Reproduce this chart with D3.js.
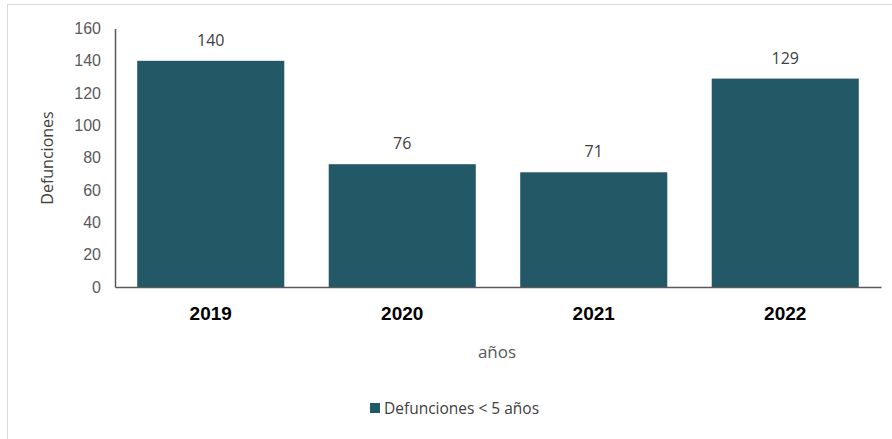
<!DOCTYPE html>
<html><head><meta charset="UTF-8">
<script src="https://d3js.org/d3.v7.min.js"></script>
<style>body{margin:0;background:#fff;font-family:"Open Sans","Liberation Sans",sans-serif;}</style>
</head><body><svg id="c" width="892" height="439"></svg>
<script>
const years = ['2019', '2020', '2021', '2022'];
const deaths = [140, 76, 71, 129];
const yTicks = [0, 20, 40, 60, 80, 100, 120, 140, 160];

const svg = d3.select('#c');
svg.append('rect').attr('x', 7.5).attr('y', 4.5).attr('width', 900).attr('height', 440)
  .attr('fill', '#fff').attr('stroke', '#d9d9d9');

const x = d3.scaleBand().domain(years).range([115, 881]).paddingInner(0.232).paddingOuter(0.116);
const y = d3.scaleLinear().domain([0, 160]).range([287, 28.5]);

svg.selectAll('.bar').data(deaths).join('rect')
  .attr('x', (d, i) => x(years[i])).attr('y', d => y(d))
  .attr('width', x.bandwidth()).attr('height', d => y(0) - y(d)).attr('fill', '#235967');

svg.selectAll('.lbl').data(deaths).join('text')
  .attr('x', (d, i) => x(years[i]) + x.bandwidth() / 2).attr('y', d => y(d) - 15)
  .attr('text-anchor', 'middle').attr('font-size', 16).attr('fill', '#404040').text(d => d);

const ya = svg.append('g').attr('transform', 'translate(115,0)')
  .call(d3.axisLeft(y).tickValues(yTicks).tickSize(0).tickPadding(14));
ya.select('.domain').attr('stroke', '#595959').attr('stroke-width', 1.5);
ya.selectAll('text').attr('font-size', 16).attr('fill', '#595959').attr('font-family', 'inherit');

const xa = svg.append('g').attr('transform', 'translate(0,287)')
  .call(d3.axisBottom(x).tickSize(0).tickPadding(20));
xa.select('.domain').attr('stroke', '#595959').attr('stroke-width', 1.5);
xa.selectAll('text').attr('font-size', 19).attr('font-weight', 'bold').attr('fill', '#000').attr('font-family', 'inherit');

svg.append('text').attr('x', 497).attr('y', 358).attr('text-anchor', 'middle')
  .attr('font-size', 17).attr('fill', '#595959').text('años');
svg.append('text').attr('transform', 'translate(53,158) rotate(-90)').attr('text-anchor', 'middle')
  .attr('font-size', 16).attr('fill', '#404040').text('Defunciones');

svg.append('rect').attr('x', 370).attr('y', 403).attr('width', 10).attr('height', 10).attr('fill', '#235967');
svg.append('text').attr('x', 384).attr('y', 414).attr('font-size', 15.5).attr('fill', '#404040').text('Defunciones < 5 años');
</script></body></html>
